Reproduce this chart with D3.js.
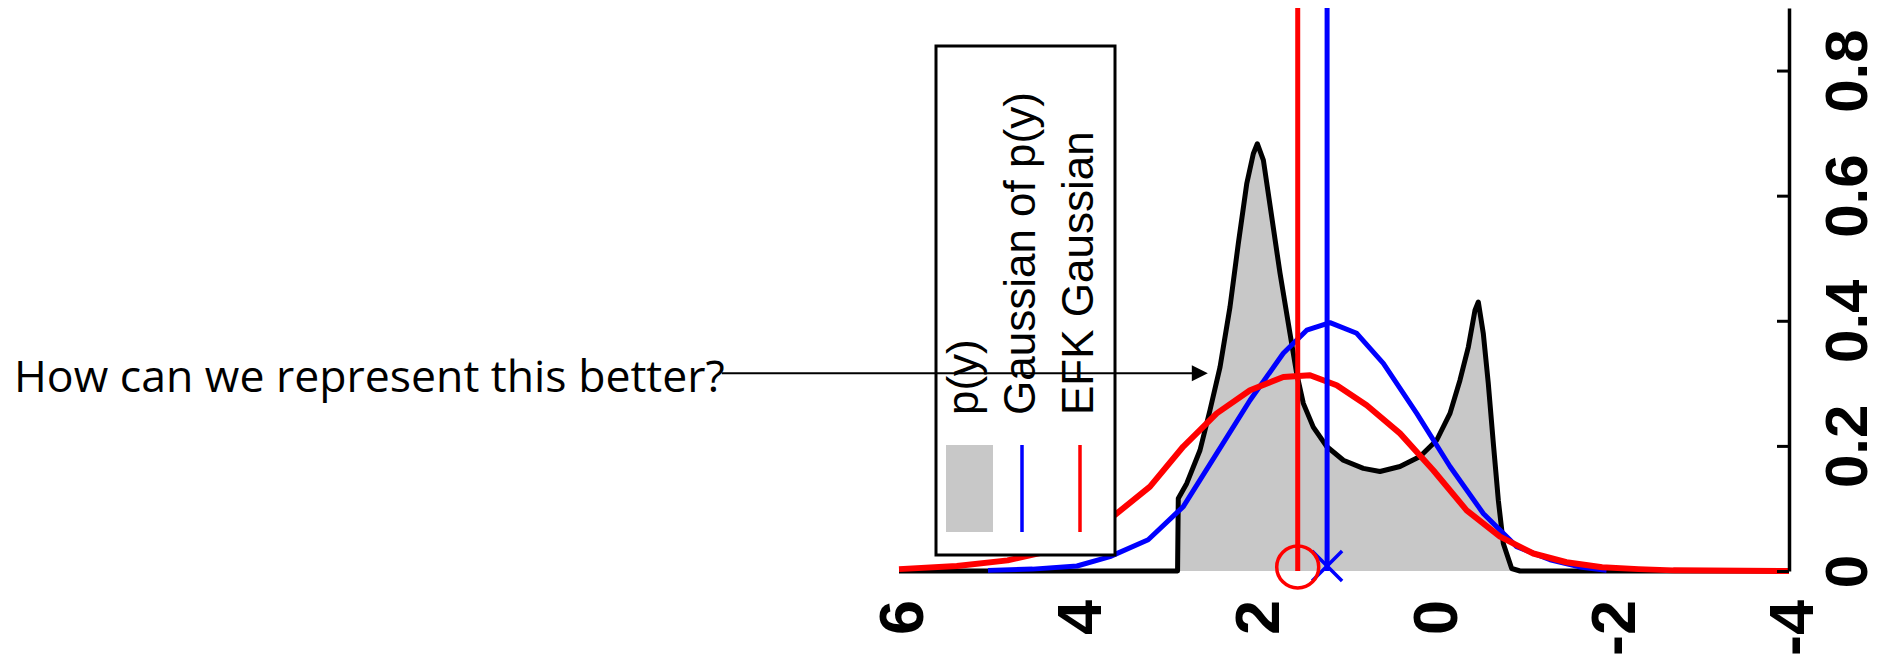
<!DOCTYPE html>
<html>
<head>
<meta charset="utf-8">
<script src="https://cdn.jsdelivr.net/npm/d3@7"></script>
<style>
  html, body { margin: 0; padding: 0; background: #ffffff; }
  svg { display: block; }
</style>
</head>
<body>
<svg id="chart" width="1880" height="657"></svg>
<script>
// ---------------- data ----------------
const xTicks = [6, 4, 2, 0, -2, -4];
const yTicks = [0, 0.2, 0.4, 0.6, 0.8];

// p(y) density (black, grey fill): [y value, density]
const pyX = [6, 2.87, 2.862, 2.767, 2.618, 2.506, 2.393, 2.281, 2.188, 2.093, 2.019, 1.974, 1.906, 1.812, 1.719, 1.607, 1.532, 1.457, 1.345, 1.194, 1.007, 0.783, 0.596, 0.371, 0.146, -0.041, -0.191, -0.303, -0.397, -0.472, -0.509, -0.565, -0.621, -0.678, -0.734, -0.790, -0.884, -0.978, -4];
const pyP = [0, 0, 0.116, 0.140, 0.193, 0.257, 0.326, 0.422, 0.523, 0.619, 0.667, 0.683, 0.657, 0.566, 0.476, 0.380, 0.316, 0.268, 0.230, 0.199, 0.177, 0.164, 0.159, 0.167, 0.183, 0.209, 0.252, 0.305, 0.358, 0.417, 0.430, 0.380, 0.300, 0.204, 0.113, 0.044, 0.004, 0, 0];

// Gaussian of p(y) (blue)
const gaussX = [5.0, 4.5, 4.0, 3.63, 3.2, 2.806, 2.43, 2.056, 1.682, 1.419, 1.157, 0.857, 0.558, 0.183, -0.191, -0.565, -0.94, -1.315, -1.67, -1.95];
const gaussP = [0.001, 0.003, 0.008, 0.023, 0.05, 0.103, 0.188, 0.273, 0.348, 0.385, 0.397, 0.380, 0.332, 0.252, 0.167, 0.092, 0.039, 0.018, 0.006, 0.001];

// EFK Gaussian (red)
const efkX = [6.0, 5.35, 4.78, 4.28, 3.85, 3.57, 3.18, 2.806, 2.43, 2.056, 1.682, 1.382, 1.082, 0.745, 0.371, -0.003, -0.378, -0.753, -1.127, -1.5, -1.9, -2.31, -2.7, -4];
const efkP = [0.003, 0.008, 0.017, 0.033, 0.065, 0.09, 0.135, 0.199, 0.252, 0.289, 0.310, 0.313, 0.297, 0.265, 0.220, 0.161, 0.097, 0.055, 0.028, 0.014, 0.006, 0.003, 0.001, 0];

// means (vertical lines + markers)
const gaussMean = 1.19;
const efkMean = 1.52;

const legendLabels = ["p(y)", "Gaussian of p(y)", "EFK Gaussian"];
const annotationText = "How can we represent this better?";
const arrowTip = [2.53, 0.316];

// ---------------- drawing ----------------
const svg = d3.select("#chart");
svg.append("rect").attr("width", 1880).attr("height", 657).attr("fill", "#fff");

const x = d3.scaleLinear().domain([6, -4]).range([899, 1789]);
const y = d3.scaleLinear().domain([0, 0.9]).range([571, 8]);

const zip = (a, b) => a.map((v, i) => [v, b[i]]);
const pyData = zip(pyX, pyP);
const gaussData = zip(gaussX, gaussP);
const efkData = zip(efkX, efkP);

const line = d3.line().x(d => x(d[0])).y(d => y(d[1]));
const area = d3.area().x(d => x(d[0])).y0(y(0)).y1(d => y(d[1]));

// grey fill
svg.append("path").datum(pyData).attr("d", area).attr("fill", "#c8c8c8");
// black density line
svg.append("path").datum(pyData).attr("d", line)
  .attr("fill", "none").attr("stroke", "#000").attr("stroke-width", 5).attr("stroke-linejoin", "round");
// blue gaussian
svg.append("path").datum(gaussData).attr("d", line)
  .attr("fill", "none").attr("stroke", "#0000ff").attr("stroke-width", 5).attr("stroke-linejoin", "round");
// red EFK gaussian
svg.append("path").datum(efkData).attr("d", line)
  .attr("fill", "none").attr("stroke", "#ff0000").attr("stroke-width", 6).attr("stroke-linejoin", "round");

// vertical mean lines
svg.append("line")
  .attr("x1", x(gaussMean)).attr("x2", x(gaussMean)).attr("y1", y(0)).attr("y2", y(0.9))
  .attr("stroke", "#0000ff").attr("stroke-width", 5);
svg.append("line")
  .attr("x1", x(efkMean)).attr("x2", x(efkMean)).attr("y1", y(0)).attr("y2", y(0.9))
  .attr("stroke", "#ff0000").attr("stroke-width", 5);

// markers
const bx = x(gaussMean), by = y(0) - 5;
svg.append("path")
  .attr("d", `M${bx - 15},${by - 15}L${bx + 15},${by + 15}M${bx - 15},${by + 15}L${bx + 15},${by - 15}`)
  .attr("stroke", "#0000ff").attr("stroke-width", 3.5).attr("fill", "none");
svg.append("circle").attr("cx", x(efkMean)).attr("cy", y(0) - 4).attr("r", 21)
  .attr("fill", "none").attr("stroke", "#ff0000").attr("stroke-width", 3.5);

// right axis (density)
const yAxis = d3.axisRight(y).tickValues(yTicks)
  .tickFormat(d => d === 0 ? "0" : d3.format(".1f")(d))
  .tickSizeInner(-12).tickSizeOuter(0);
const gy = svg.append("g").attr("transform", "translate(1789,0)").call(yAxis);
gy.select(".domain").attr("stroke", "#000").attr("stroke-width", 3.5);
gy.selectAll(".tick line").attr("stroke", "#000").attr("stroke-width", 3);
gy.selectAll(".tick text")
  .attr("x", null).attr("dy", null)
  .attr("transform", "translate(78,0) rotate(-90)")
  .attr("text-anchor", "middle")
  .attr("fill", "#000")
  .style("font-family", "'Liberation Sans', Arial, sans-serif")
  .style("font-weight", "bold")
  .style("font-size", "60px");

// bottom axis labels (y values)
const xAxis = d3.axisBottom(x).tickValues(xTicks).tickFormat(d => String(d)).tickSize(0);
const gx = svg.append("g").attr("transform", `translate(0,${y(0)})`).call(xAxis);
gx.select(".domain").remove();
gx.selectAll(".tick text")
  .attr("y", null).attr("dy", null)
  .attr("transform", "translate(23,29) rotate(-90)")
  .attr("text-anchor", "end")
  .attr("fill", "#000")
  .style("font-family", "'Liberation Sans', Arial, sans-serif")
  .style("font-weight", "bold")
  .style("font-size", "63px");

// legend (rotated)
const lg = svg.append("g");
lg.append("rect").attr("x", 936).attr("y", 46).attr("width", 179).attr("height", 509)
  .attr("fill", "#fff").attr("stroke", "#000").attr("stroke-width", 3);
const rowX = [978, 1035, 1093];
lg.append("rect").attr("x", 946).attr("y", 445).attr("width", 47).attr("height", 87).attr("fill", "#c8c8c8");
lg.append("line").attr("x1", 1022).attr("x2", 1022).attr("y1", 445).attr("y2", 532)
  .attr("stroke", "#0000ff").attr("stroke-width", 3.5);
lg.append("line").attr("x1", 1080).attr("x2", 1080).attr("y1", 445).attr("y2", 532)
  .attr("stroke", "#ff0000").attr("stroke-width", 3.5);
lg.selectAll("text.lgt").data(legendLabels).join("text")
  .attr("class", "lgt")
  .attr("transform", (d, i) => `translate(${rowX[i]},415) rotate(-90)`)
  .attr("text-anchor", "start")
  .attr("fill", "#000")
  .style("font-family", "'Liberation Sans', Arial, sans-serif")
  .style("font-size", "44px")
  .text(d => d);

// annotation
const ay = y(arrowTip[1]);
const ax = x(arrowTip[0]);
const ann = svg.append("text")
  .attr("x", 14).attr("y", ay + 19)
  .attr("fill", "#000")
  .style("font-family", "'Open Sans', 'Noto Sans', sans-serif")
  .style("font-size", "45px")
  .text(annotationText);
// fit the sentence to the width it has in the reference (ends just before the arrow)
const targetWidth = 711;
const measured = ann.node().getComputedTextLength();
if (measured > targetWidth) ann.style("font-size", (45 * targetWidth / measured).toFixed(2) + "px");
const textEnd = 14 + ann.node().getComputedTextLength();
svg.append("line").attr("x1", textEnd - 3).attr("x2", ax - 14).attr("y1", ay).attr("y2", ay)
  .attr("stroke", "#000").attr("stroke-width", 2);
svg.append("path")
  .attr("d", `M${ax},${ay}L${ax - 16},${ay - 8}L${ax - 16},${ay + 8}Z`)
  .attr("fill", "#000");
</script>
</body>
</html>
